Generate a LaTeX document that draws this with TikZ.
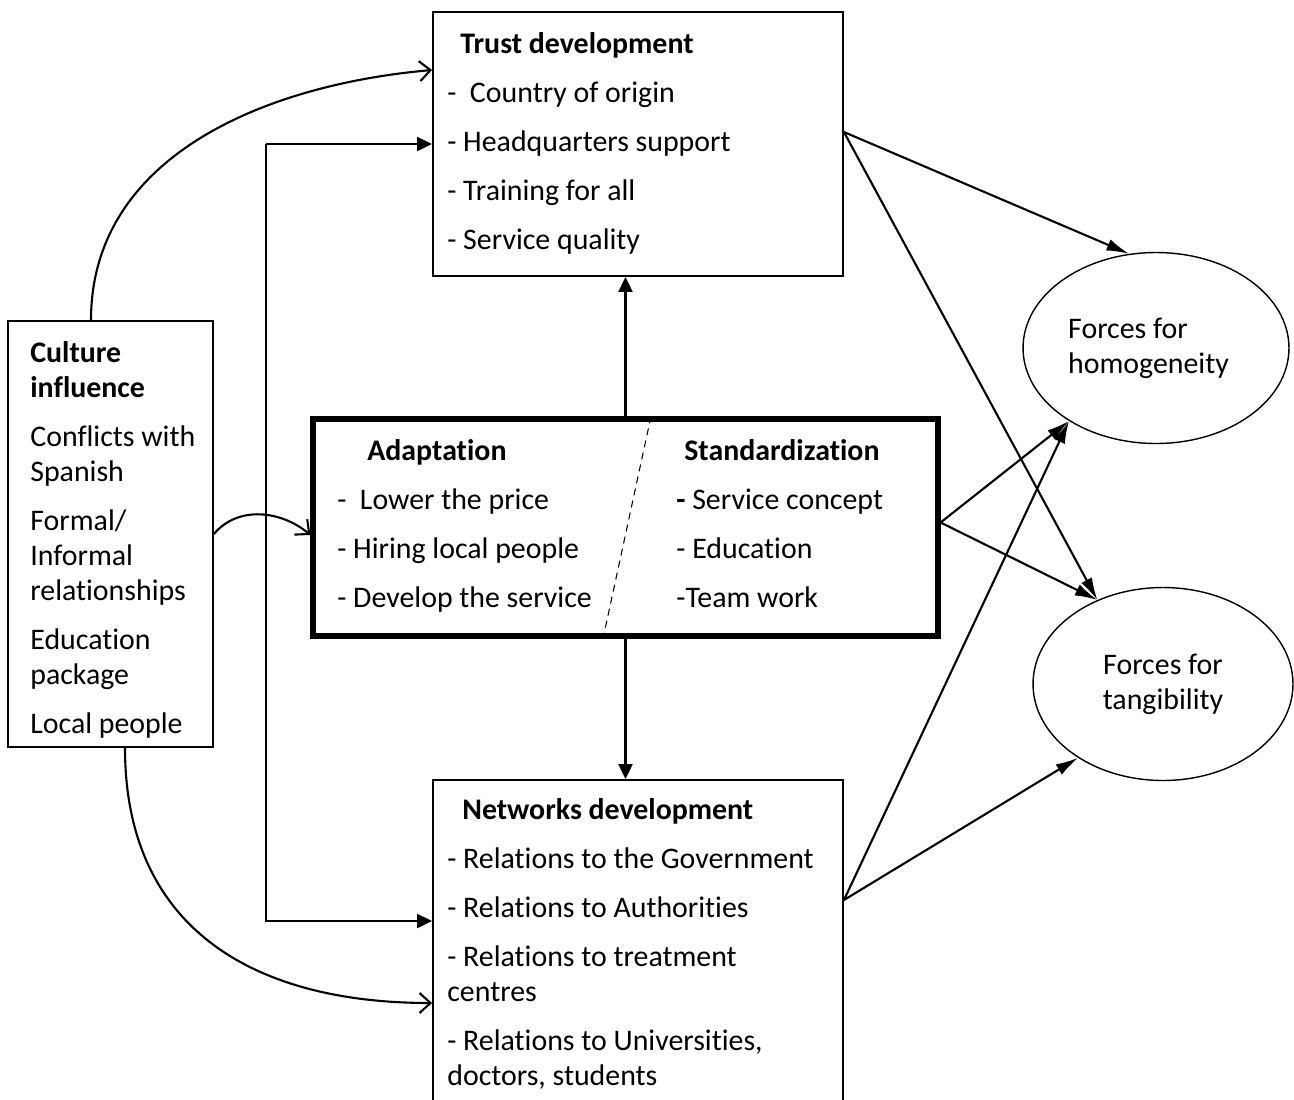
\documentclass[tikz,border=0pt]{standalone}
\usepackage{fontspec}
\setmainfont{Carlito}[Ligatures=NoCommon]
\usetikzlibrary{arrows.meta,shapes.geometric}
\newcommand\boxfont{\fontsize{17pt}{19.9pt}\selectfont}
\tikzset{
  box/.style={draw, rectangle, line width=1.1pt, inner sep=0pt},
  txt/.style={anchor=north west, inner sep=0pt, align=left, font=\boxfont},
  bubble/.style={draw, ellipse, line width=0.8pt, inner sep=0pt, font=\boxfont},
  tri/.style={-{Triangle[length=0.3cm,width=0.28cm]}, line width=1.2pt},
  barb/.style={-{Straight Barb[length=0.22cm,width=0.4cm]}, line width=1.2pt},
  fwd/.style={-{Latex[length=0.45cm,width=0.24cm]}, line width=1.2pt}
}
\begin{document}
\begin{tikzpicture}[x=0.02cm, y=-0.02cm]
\useasboundingbox (0,0) rectangle (1294,1099);
% boxes
\node[box, minimum width=8.2cm, minimum height=5.28cm] (trust) at (638,144) {};
\node[box, minimum width=4.1cm, minimum height=8.52cm] (culture) at (110.5,534) {};
\node[box, line width=3pt, minimum width=12.5cm, minimum height=4.34cm] (adapt) at (625.5,527.5) {};
\node[box, minimum width=8.2cm, minimum height=7.2cm] (network) at (638,960) {};
\node[bubble, align=left, minimum width=5.32cm, minimum height=3.82cm] (homog) at (1156,348) {Forces for\\homogeneity\hspace*{0.3cm}};
\node[bubble, align=center, minimum width=5.2cm, minimum height=3.86cm] (tangib) at (1163,684) {Forces for\\tangibility};
% texts
\node[txt] (trusttxt) at (447,32) {\hspace*{0.26cm}\textbf{Trust development}\\[8pt]
  -\ \ Country of origin\\[8pt]- Headquarters support\\[8pt]- Training for all\\[8pt]- Service quality};
\node[txt] (culturetxt) at (30,341) {\textbf{Culture}\\\textbf{influence}\\[8pt]
  Conflicts with\\Spanish\\[8pt]Formal/\\Informal\\relationships\\[8pt]Education\\package\\[8pt]Local people};
\node[txt] (adapttxt) at (337,439) {\hspace*{0.6cm}\textbf{Adaptation}\\[8pt]
  -\ \ Lower the price\\[8pt]- Hiring local people\\[8pt]- Develop the service};
\node[txt] (standtxt) at (676,439) {\hspace*{0.16cm}\textbf{Standardization}\\[8pt]
  \textbf{-} Service concept\\[8pt]- Education\\[8pt]-Team work};
\node[txt] (networktxt) at (447,798) {\hspace*{0.3cm}\textbf{Networks development}\\[8pt]
  - Relations to the Government\\[8pt]- Relations to Authorities\\[8pt]- Relations to treatment\\centres\\[8pt]
  - Relations to Universities,\\doctors, students};
% divider
\draw[dash pattern=on 4pt off 3pt, line width=0.6pt] ([xshift=0.51cm]adapt.north) -- ([xshift=-0.45cm]adapt.south);
% culture links
\draw[barb] ([xshift=-0.39cm]culture.north) to[out=90, in=185] ([yshift=1.48cm]trust.west);
\draw[barb] (culture.east) to[out=50, in=140] ([yshift=-0.15cm]adapt.west);
\draw[barb] ([xshift=0.29cm]culture.south) to[out=-90, in=180, looseness=1.15] ([yshift=-0.86cm]network.west);
\coordinate (spine) at ([xshift=-3.32cm]trust.west);
\draw[tri] (spine) -- (trust.west);
\draw[tri] (spine) |- ([yshift=0.78cm]network.west);
% vertical links
\draw[tri] (adapt.north) -- (adapt.north |- trust.south);
\draw[tri] (adapt.south) -- (adapt.south |- network.north);
% forces
\draw[fwd] ([yshift=0.24cm]trust.east) -- (homog.106);
\draw[fwd] ([yshift=0.24cm]trust.east) -- (tangib.128);
\draw[fwd] ([yshift=0.1cm]adapt.east) -- (homog.220);
\draw[fwd] ([yshift=0.1cm]adapt.east) -- (tangib.128);
\draw[fwd] ([yshift=1.2cm]network.east) -- (homog.220);
\draw[fwd] ([yshift=1.2cm]network.east) -- (tangib.221);
\end{tikzpicture}
\end{document}
